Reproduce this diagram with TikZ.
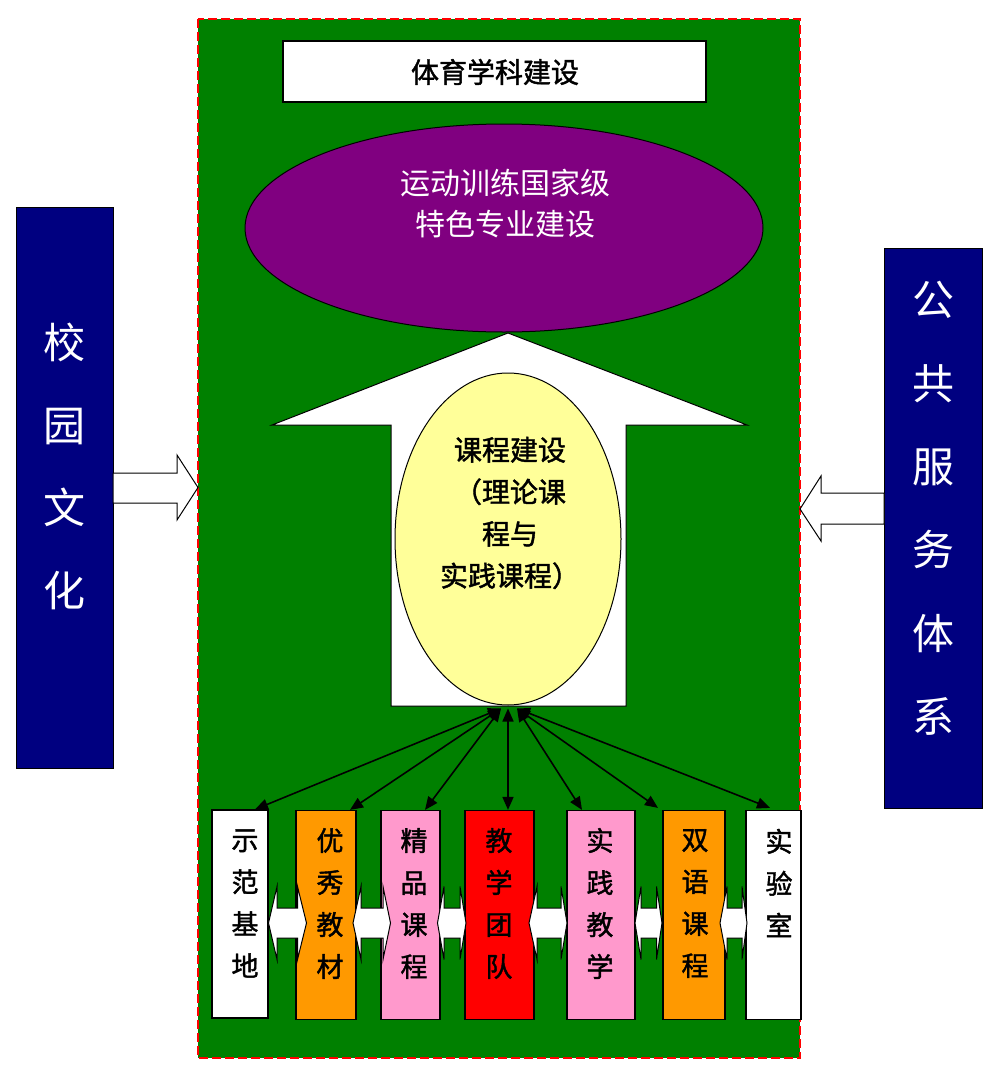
\documentclass[tikz,border=0pt]{standalone}
\usepackage{fontspec}
\setmainfont{Noto Sans CJK SC}
\newfontfamily\heavycjk[FakeBold=1.5]{Noto Sans CJK SC}
\usetikzlibrary{arrows.meta,shapes.geometric,calc}
\definecolor{bggreen}{HTML}{008000}
\definecolor{elpurple}{HTML}{800080}
\definecolor{boxnavy}{HTML}{000080}
\definecolor{elyellow}{HTML}{FFFF99}
\definecolor{boxorange}{HTML}{FF9900}
\definecolor{boxpink}{HTML}{FF99CC}
\definecolor{boxred}{HTML}{FF0000}
\newcommand{\dblarr}[4]{%
  \draw[blockarrow] (#1,923) -- (#2,886.5) -- (#2,908) -- (#3,908) -- (#3,886.5) -- (#4,923)
    -- (#3,959.5) -- (#3,938) -- (#2,938) -- (#2,959.5) -- cycle;}
\begin{document}
\begin{tikzpicture}[x=1pt,y=-1pt,
  blockarrow/.style={draw=black,fill=white,line width=1pt,line join=miter},
  sidebox/.style={draw=black,fill=boxnavy,line width=0.8pt,inner sep=0pt},
  stepbox/.style={draw=black,line width=1.2pt,inner sep=0pt,minimum height=209pt},
  boxtext/.style={font=\heavycjk\fontsize{27}{42}\selectfont,align=center,inner sep=0pt},
  link/.style={draw=black,line width=1.6pt,{Triangle[length=13pt,width=11pt]}-{Triangle[length=13pt,width=11pt]}}]
\useasboundingbox (0,0) rectangle (985,1068);
% background panel
\fill[bggreen] (198,19) rectangle (800,1058);
\draw[red,line width=1.5pt,dash pattern=on 9pt off 4pt] (198,19) rectangle (800,1058);
% side boxes
\node[sidebox,minimum width=97pt,minimum height=561pt] (left) at (64.5,487.5) {};
\node[text=white,font=\fontsize{42}{82.5}\selectfont,align=center,inner sep=0pt] (lefttext) at (64,466.5) {校\\园\\文\\化};
\node[sidebox,minimum width=98pt,minimum height=560pt] (right) at (933,528) {};
\node[text=white,font=\fontsize{42}{83.4}\selectfont,align=center,inner sep=0pt] (righttext) at (933,508.5) {公\\共\\服\\务\\体\\系};
% horizontal block arrows
\draw[blockarrow] (113,473) -- (177,473) -- (177,455) -- (198,487.5) -- (177,520) -- (177,503) -- (113,503) -- cycle;
\draw[blockarrow] (884,493) -- (821,493) -- (821,476) -- (800,509) -- (821,541) -- (821,524) -- (884,524) -- cycle;
% top box
\node[draw=black,fill=white,line width=1.2pt,minimum width=423pt,minimum height=61pt,inner sep=0pt] (top) at (494.5,71.5) {};
\node[font=\heavycjk\fontsize{28}{34}\selectfont,inner sep=0pt] (toptext) at (495,72) {体育学科建设};
% up arrow
\draw[blockarrow] (508,333) -- (747,425) -- (626,425) -- (626,706) -- (391,706) -- (391,425) -- (272,425) -- cycle;
% purple ellipse
\node[ellipse,draw=black,fill=elpurple,line width=1pt,minimum width=518pt,minimum height=208pt,inner sep=0pt] (purple) at (504,228) {};
\node[text=white,font=\fontsize{30}{41}\selectfont,align=center,inner sep=0pt] (purpletext) at (505,203.5) {运动训练国家级\\特色专业建设};
% yellow ellipse
\node[ellipse,draw=black,fill=elyellow,line width=1pt,minimum width=226pt,minimum height=332pt,inner sep=0pt] (yellow) at (508,539) {};
\node[font=\heavycjk\fontsize{28}{42}\selectfont,align=center,inner sep=0pt] (yellowtext) at (510,513) {课程建设\\（理论课\\程与\\实践课程）};
% bottom boxes
\node[stepbox,fill=white,minimum width=56pt,minimum height=208pt] (b1) at (240,914) {};
\node[stepbox,fill=boxorange,minimum width=60pt] (b2) at (326,915) {};
\node[stepbox,fill=boxpink,minimum width=59pt] (b3) at (410.5,915) {};
\node[stepbox,fill=boxred,minimum width=69pt] (b4) at (499.5,915) {};
\node[stepbox,fill=boxpink,minimum width=68pt] (b5) at (601,915) {};
\node[stepbox,fill=boxorange,minimum width=62pt] (b6) at (694,915) {};
\node[stepbox,fill=white,minimum width=55pt] (b7) at (773.5,915) {};
\node[boxtext] (t1) at (245,903.5) {示\\范\\基\\地};
\node[boxtext] (t2) at (330,903.5) {优\\秀\\教\\材};
\node[boxtext] (t3) at (414,903.5) {精\\品\\课\\程};
\node[boxtext] (t4) at (499,903.5) {教\\学\\团\\队};
\node[boxtext] (t5) at (600,903.5) {实\\践\\教\\学};
\node[boxtext] (t6) at (695,903.5) {双\\语\\课\\程};
\node[boxtext] (t7) at (779,883) {实\\验\\室};
% double block arrows between boxes
\dblarr{268.5}{277}{297.5}{306.5}
\dblarr{353}{361}{383}{390.5}
\dblarr{437.5}{444}{460}{466}
\dblarr{529}{537}{561}{567}
\dblarr{635}{641}{656.5}{662}
\dblarr{720}{727}{742}{747}
% links
\coordinate (hubL) at ($(yellow.south)+(-7,3)$);
\coordinate (hubM) at ($(yellow.south)+(0,3)$);
\coordinate (hubR) at ($(yellow.south)+(9,3)$);
\draw[link] (hubL) -- ($(b1.north)+(15,0)$);
\draw[link] (hubL) -- ($(b2.north)+(24,0)$);
\draw[link] (hubL) -- ($(b3.north)+(14.5,0)$);
\draw[link] (hubM) -- ($(b4.north)+(8.5,0)$);
\draw[link] (hubR) -- ($(b5.north)+(-19,0)$);
\draw[link] (hubR) -- ($(b6.north)+(-36,-2)$);
\draw[link] (hubR) -- ($(b7.north)+(-3.5,-2)$);
\end{tikzpicture}
\end{document}
